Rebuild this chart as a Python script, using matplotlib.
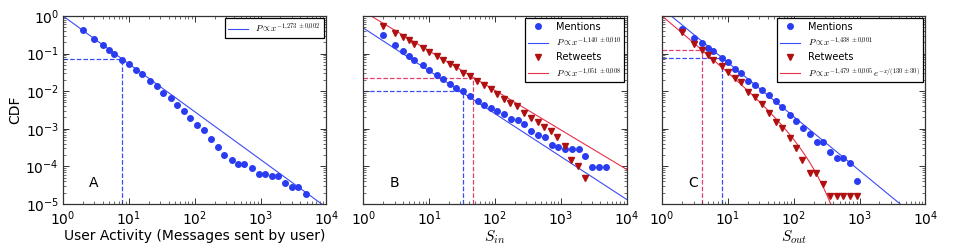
import matplotlib
matplotlib.use('Agg')
import matplotlib.pyplot as plt
from matplotlib.ticker import LogLocator, NullFormatter
import numpy as np

plt.rcParams['font.family'] = ['DejaVu Sans']
plt.rcParams['mathtext.fontset'] = 'cm'

# panel A: user activity
a_x = [2, 3, 4, 5, 6, 8, 10, 13, 16, 21, 27, 33, 43, 54, 68, 86, 110, 138, 178, 224, 279, 363,
       457, 562, 741, 933, 1175, 1479, 1862, 2371, 2985, 3758, 4842]
a_y = [0.417, 0.24, 0.173, 0.128, 0.1, 0.069, 0.054, 0.036, 0.028, 0.0188, 0.0138, 0.0092, 0.0066,
       0.0044, 0.0029, 0.0019, 0.00123, 0.00092, 0.00054, 0.00033, 0.000195, 0.000145, 0.000112,
       0.000112, 0.000091, 0.0000645, 0.0000645, 0.000055, 0.000055, 0.000036, 0.0000276,
       0.0000276, 0.0000185]
a_fit = (1.0, 1.273)
a_mark = (8, 0.07)

# panel B: S_in
b_mx = [2, 3, 4, 5, 6, 8, 10, 13, 16, 21, 26, 33, 42, 55, 69, 86, 108, 139, 178, 224, 280, 355,
        447, 575, 724, 912, 1148, 1479, 1862, 2344, 2951, 3758, 4786]
b_my = [0.313, 0.166, 0.115, 0.085, 0.069, 0.049, 0.0376, 0.0277, 0.0213, 0.0157, 0.012, 0.01,
        0.0075, 0.0054, 0.0042, 0.0035, 0.0029, 0.0024, 0.0018, 0.0017, 0.0013, 0.00085, 0.0007,
        0.00061, 0.00038, 0.00033, 0.00029, 0.00029, 0.00029, 0.00019, 0.000094, 0.000094, 0.000094]
b_rx = [2, 3, 4, 5, 6, 8, 10, 13, 16, 21, 26, 33, 42, 54, 68, 86, 108, 136, 171, 219, 276, 355,
        447, 562, 708, 891, 1148, 1445, 1820, 2344]
b_ry = [0.54, 0.36, 0.27, 0.226, 0.177, 0.145, 0.108, 0.085, 0.066, 0.054, 0.043, 0.031, 0.025,
        0.0185, 0.0145, 0.0113, 0.0082, 0.0061, 0.0047, 0.004, 0.00266, 0.0019, 0.0015, 0.0011,
        0.00089, 0.00061, 0.00035, 0.000145, 0.000102, 0.00005]
b_mfit = (0.48, 1.140)
b_rfit = (1.33, 1.051)
b_mmark = (33, 0.01)
b_rmark = (46, 0.022)

# panel C: S_out
c_mx = [2, 3, 4, 5, 6, 8, 10, 13, 16, 20, 26, 33, 42, 53, 67, 87, 109, 137, 174, 224, 282, 355,
        449, 565, 724, 924]
c_my = [0.44, 0.26, 0.188, 0.141, 0.115, 0.078, 0.059, 0.04, 0.03, 0.0188, 0.0145, 0.0106, 0.0077,
        0.0055, 0.0038, 0.0023, 0.00163, 0.00102, 0.00074, 0.00045, 0.00045, 0.000245, 0.000162,
        0.000162, 0.00012, 0.000041]
c_rx = [2, 3, 4, 5, 6, 8, 10, 13, 16, 20, 26, 33, 42, 53, 67, 87, 108, 135, 174, 219, 277, 355,
        448, 565, 724, 912]
c_ry = [0.37, 0.184, 0.128, 0.089, 0.066, 0.047, 0.033, 0.0226, 0.0174, 0.0096, 0.0071, 0.0045,
        0.00266, 0.00154, 0.00107, 0.00058, 0.00031, 0.000148, 0.0000647, 0.0000647, 0.0000345,
        0.0000158, 0.0000158, 0.0000158, 0.0000158, 0.0000158]
c_mfit = (1.58, 1.438)
c_rfit = (1.008, 1.479, 130.0)
c_mmark = (8, 0.078)
c_rmark = (4, 0.123)

BLUE = '#2a3cf0'
BLUE_LINE = '#3b4cf5'
RED_M = '#b01010'
RED_LINE = '#e8304a'
RED_DASH = '#e0406e'

fig = plt.figure(figsize=(9.61, 2.46), dpi=100)
lefts = [0.0656, 0.378, 0.689]
axes = [fig.add_axes([l, 0.171, 0.274, 0.764]) for l in lefts]
xs = np.logspace(0, 4, 200)

def style(ax, show_y):
    ax.set_xscale('log'); ax.set_yscale('log')
    ax.set_xlim(1, 1e4); ax.set_ylim(1e-5, 1)
    ax.xaxis.set_major_locator(LogLocator(base=10, numticks=10))
    ax.yaxis.set_major_locator(LogLocator(base=10, numticks=10))
    ax.xaxis.set_minor_locator(LogLocator(base=10, subs=np.arange(2, 10), numticks=10))
    ax.yaxis.set_minor_locator(LogLocator(base=10, subs=np.arange(2, 10), numticks=10))
    ax.xaxis.set_minor_formatter(NullFormatter()); ax.yaxis.set_minor_formatter(NullFormatter())
    ax.tick_params(which='both', direction='in', top=True, right=True, labelsize=10, color='#333333')
    ax.tick_params(axis='x', pad=4)
    ax.tick_params(axis='y', pad=3)
    ax.tick_params(which='major', length=4, width=0.7)
    ax.tick_params(which='minor', length=2, width=0.5)
    if not show_y:
        ax.tick_params(axis='y', labelleft=False)
    for sp in ax.spines.values():
        sp.set_color('#333333'); sp.set_linewidth(0.9)

def dashes(ax, pt, color):
    ax.plot([1, pt[0]], [pt[1], pt[1]], '--', color=color, lw=0.9, zorder=1)
    ax.plot([pt[0], pt[0]], [1e-5, pt[1]], '--', color=color, lw=0.9, zorder=1)

def leg(ax):
    l = ax.legend(loc='upper right', fontsize=7, fancybox=False, framealpha=1, edgecolor='black',
                  handlelength=2.0, borderpad=0.35, labelspacing=0.4, handletextpad=0.8,
                  borderaxespad=0.25, numpoints=1)
    l.get_frame().set_linewidth(0.9)
    for t in l.get_texts():
        if t.get_text().startswith('$'):
            t.set_fontsize(6.5)

# A
ax = axes[0]
style(ax, True)
dashes(ax, a_mark, BLUE_LINE)
ax.plot(xs, a_fit[0] * xs ** -a_fit[1], color=BLUE_LINE, lw=0.8,
        label=r'$P\propto x^{-1{,}273\,\pm 0{,}002}$')
ax.plot(a_x, a_y, 'o', color=BLUE, ms=4.0, mec=BLUE, zorder=3)
ax.set_ylabel('CDF', fontsize=10, labelpad=2)
ax.set_xlabel('User Activity (Messages sent by user)', fontsize=10, labelpad=1)
ax.text(0.1, 0.11, 'A', transform=ax.transAxes, fontsize=10, va='center')
leg(ax)

# B
ax = axes[1]
style(ax, False)
dashes(ax, b_mmark, BLUE_LINE)
dashes(ax, b_rmark, RED_DASH)
ax.plot(b_mx, b_my, 'o', color=BLUE, ms=4.0, mec=BLUE, zorder=3, label='Mentions')
ax.plot(xs, b_mfit[0] * xs ** -b_mfit[1], color=BLUE_LINE, lw=0.8,
        label=r'$P\propto x^{-1{,}140\,\pm 0{,}010}$')
ax.plot(b_rx, b_ry, 'v', color=RED_M, ms=4.0, mec=RED_M, zorder=3, label='Retweets')
ax.plot(xs, b_rfit[0] * xs ** -b_rfit[1], color=RED_LINE, lw=0.8,
        label=r'$P\propto x^{-1{,}051\,\pm 0{,}008}$')
ax.set_xlabel(r'$S_{in}$', fontsize=11, labelpad=0)
ax.text(0.1, 0.11, 'B', transform=ax.transAxes, fontsize=10, va='center')
leg(ax)

# C
ax = axes[2]
style(ax, False)
dashes(ax, c_rmark, RED_DASH)
dashes(ax, c_mmark, BLUE_LINE)
ax.plot(c_mx, c_my, 'o', color=BLUE, ms=4.0, mec=BLUE, zorder=3, label='Mentions')
ax.plot(xs, c_mfit[0] * xs ** -c_mfit[1], color=BLUE_LINE, lw=0.8,
        label=r'$P\propto x^{-1{,}438\,\pm 0{,}001}$')
ax.plot(c_rx, c_ry, 'v', color=RED_M, ms=4.0, mec=RED_M, zorder=3, label='Retweets')
ax.plot(xs, c_rfit[0] * xs ** -c_rfit[1] * np.exp(-xs / c_rfit[2]), color=RED_LINE, lw=0.8,
        label=r'$P\propto x^{-1{,}479\,\pm 0{,}005}\,e^{-x/(130\,\pm 30)}$')
ax.set_xlabel(r'$S_{out}$', fontsize=11, labelpad=0)
ax.text(0.1, 0.11, 'C', transform=ax.transAxes, fontsize=10, va='center')
leg(ax)

fig.savefig('out.png', dpi=100)
